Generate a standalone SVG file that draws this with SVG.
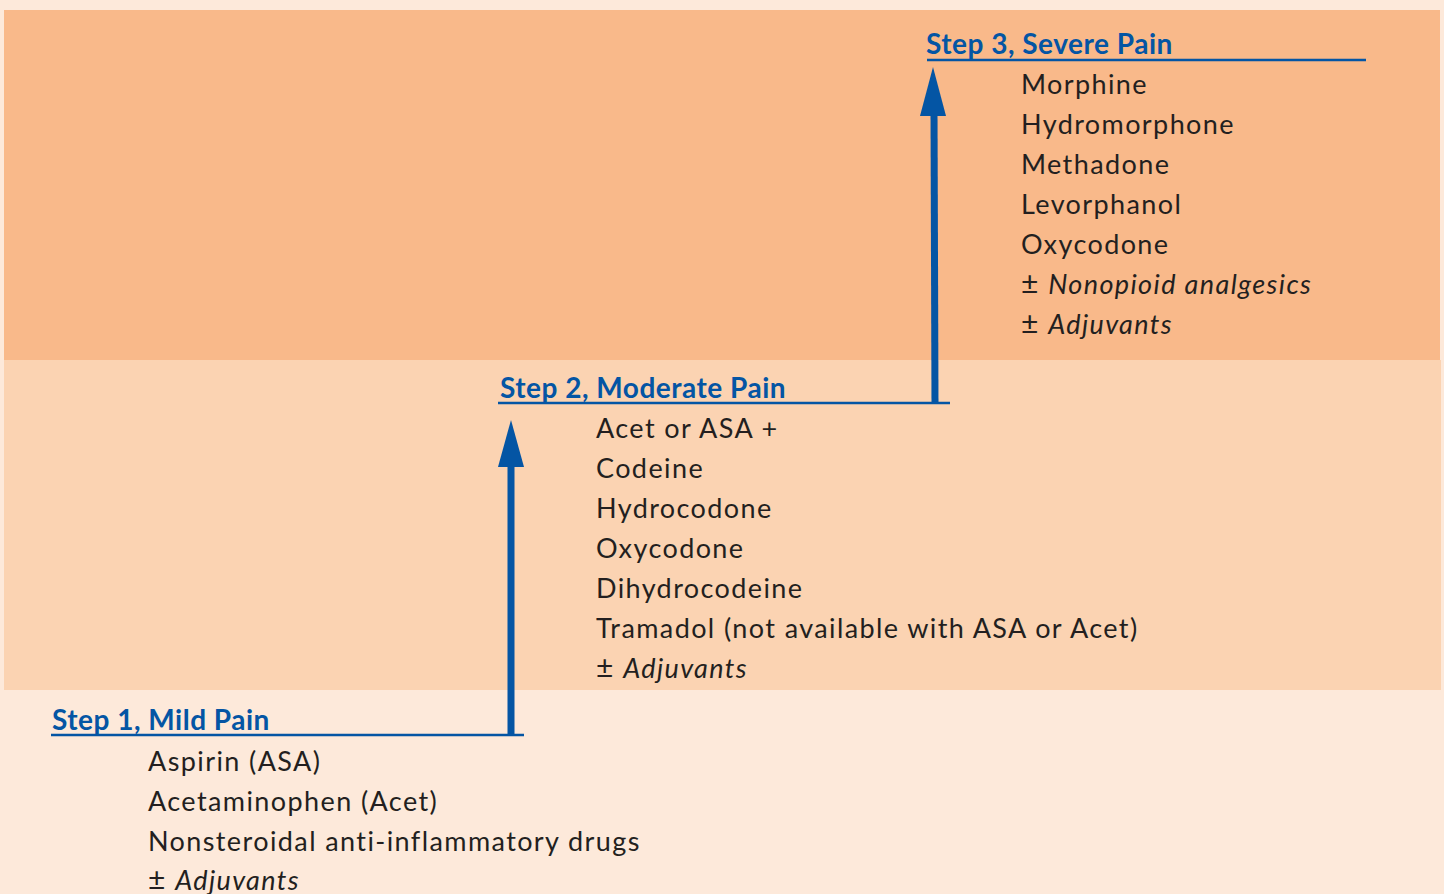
<svg xmlns="http://www.w3.org/2000/svg" width="1444" height="894" viewBox="0 0 1444 894">
<style>
.hd{font-family:Lato,"Liberation Sans",sans-serif;font-weight:bold;font-size:28px;letter-spacing:0.5px;fill:#0455A4}
.it{font-family:Lato,"Liberation Sans",sans-serif;font-size:27px;letter-spacing:1.4px;fill:#231F20}
.em{font-style:italic}
.pm{font-size:30px}
.ul{stroke:#0455A4;stroke-width:2.5}
.sh{stroke:#0455A4;stroke-width:7}
.ah{fill:#0455A4}
</style>
<rect width="1444" height="894" fill="#FDE9DA"/>
<rect x="4" y="10" width="1436" height="350" fill="#F9B98A"/>
<rect x="4" y="360" width="1437" height="330" fill="#FBD3B2"/>
<g id="connectors">
<line class="sh" x1="511" y1="736" x2="511" y2="460"/>
<polygon class="ah" points="511,420 498,467 524,467"/>
<line class="sh" x1="935" y1="404" x2="934" y2="110"/>
<polygon class="ah" points="933,67 920,116 946,116"/>
</g>
<g id="step3">
<text class="hd" x="926" y="54">Step 3, Severe Pain</text>
<line class="ul" x1="927" y1="60" x2="1366" y2="60"/>
<text class="it" x="1021" y="94">Morphine</text>
<text class="it" x="1021" y="134">Hydromorphone</text>
<text class="it" x="1021" y="174">Methadone</text>
<text class="it" x="1021" y="214">Levorphanol</text>
<text class="it" x="1021" y="254">Oxycodone</text>
<text class="it" x="1021" y="294"><tspan class="pm">±</tspan> <tspan class="em">Nonopioid analgesics</tspan></text>
<text class="it" x="1021" y="334"><tspan class="pm">±</tspan> <tspan class="em">Adjuvants</tspan></text>
</g>
<g id="step2">
<text class="hd" x="500" y="398">Step 2, Moderate Pain</text>
<line class="ul" x1="498" y1="403" x2="950" y2="403"/>
<text class="it" x="596" y="438">Acet or ASA +</text>
<text class="it" x="596" y="478">Codeine</text>
<text class="it" x="596" y="518">Hydrocodone</text>
<text class="it" x="596" y="558">Oxycodone</text>
<text class="it" x="596" y="598">Dihydrocodeine</text>
<text class="it" x="596" y="638">Tramadol (not available with ASA or Acet)</text>
<text class="it" x="596" y="678"><tspan class="pm">±</tspan> <tspan class="em">Adjuvants</tspan></text>
</g>
<g id="step1">
<text class="hd" x="52" y="730">Step 1, Mild Pain</text>
<line class="ul" x1="51" y1="735" x2="524" y2="735"/>
<text class="it" x="148" y="771">Aspirin (ASA)</text>
<text class="it" x="148" y="811">Acetaminophen (Acet)</text>
<text class="it" x="148" y="851">Nonsteroidal anti-inflammatory drugs</text>
<text class="it" x="148" y="890"><tspan class="pm">±</tspan> <tspan class="em">Adjuvants</tspan></text>
</g>
</svg>
